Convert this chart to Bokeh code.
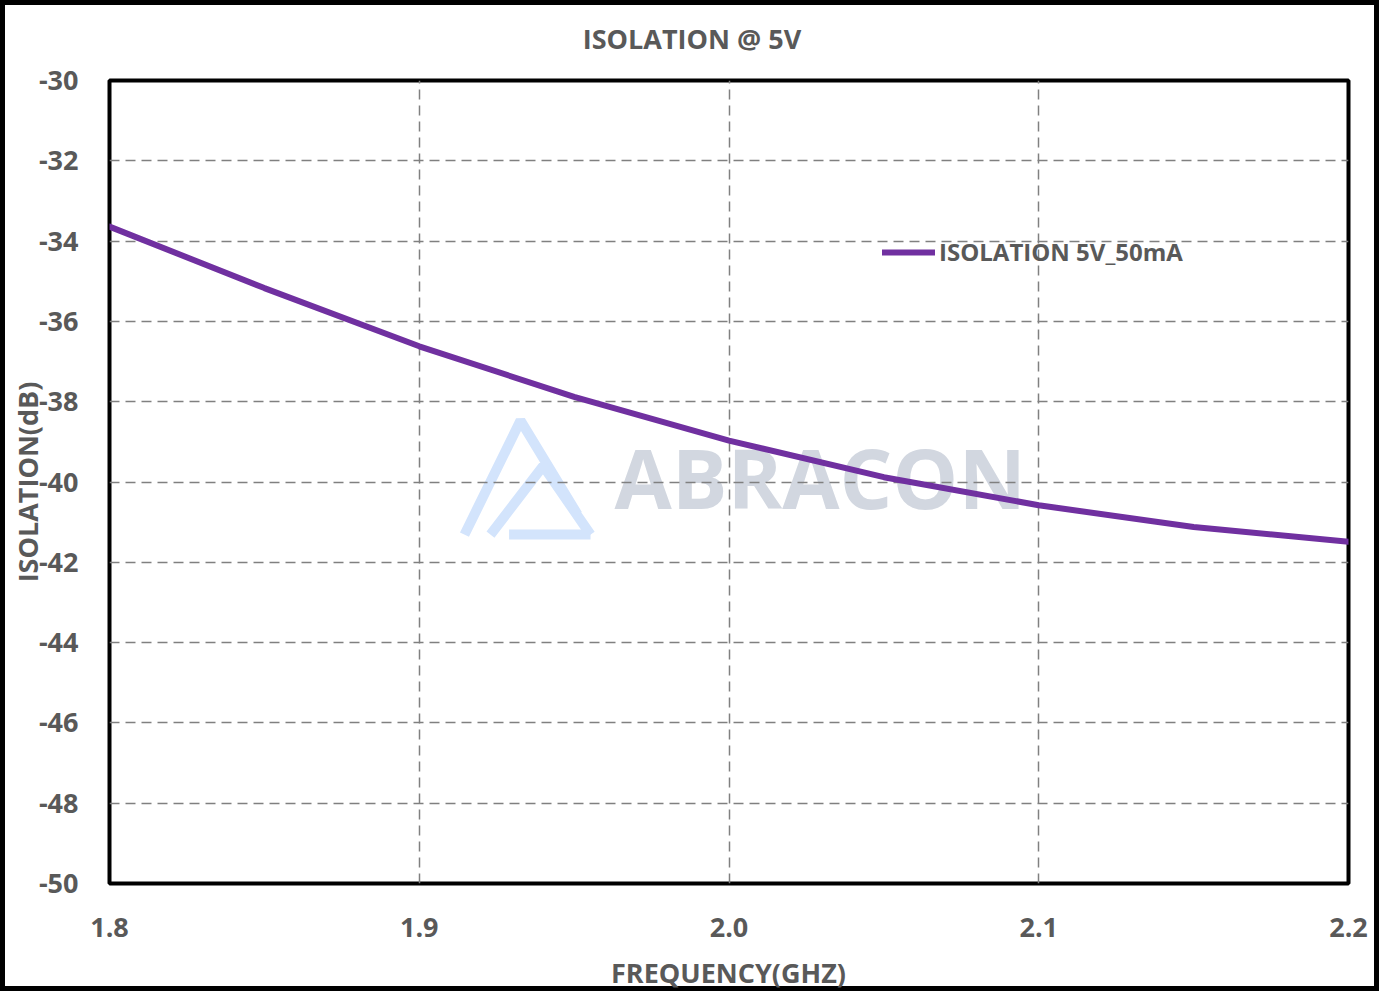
from bokeh.plotting import figure
from bokeh.layouts import column
from bokeh.models import Range1d, FixedTicker, Legend, LegendItem, PrintfTickFormatter, Div
from bokeh.core.properties import value
from bokeh.embed import file_html
from bokeh.resources import INLINE

# ---- data ----
FREQ_GHZ = [1.80, 1.85, 1.90, 1.95, 2.00, 2.05, 2.10, 2.15, 2.20]
ISOLATION_DB = [-33.64, -35.17, -36.62, -37.88, -38.97, -39.88, -40.58, -41.12, -41.49]
X_TICKS = [1.8, 1.9, 2.0, 2.1, 2.2]
Y_TICKS = [-50, -48, -46, -44, -42, -40, -38, -36, -34, -32, -30]
SERIES_NAME = "ISOLATION 5V_50mA"
TITLE = "ISOLATION @ 5V"
X_LABEL = "FREQUENCY(GHZ)"
Y_LABEL = "ISOLATION(dB)"
WATERMARK = "ABRACON"

FONT = "Open Sans"
TXT = "#595959"
PURPLE = "#7030A0"
W, H = 1369, 981      # inner size of the bordered chart box
B = 5                 # outer border width
TITLE_H = 50
XLAB_H = 34
FIG_H = H - TITLE_H - XLAB_H


def label_div(text, height, pad_top, pad_left):
    html = (f'<div style="width:{W}px;box-sizing:border-box;font-family:\'{FONT}\';'
            f'font-size:27px;font-weight:bold;color:{TXT};text-align:center;'
            f'padding-top:{pad_top}px;padding-left:{pad_left}px;line-height:28px;'
            f'white-space:nowrap;">{text}</div>')
    return Div(text=html, width=W, height=height, margin=0,
               styles={"width": f"{W}px"})


title_div = label_div(TITLE, TITLE_H, 20, 5)
xlab_div = label_div(X_LABEL, XLAB_H, 7, 78)

p = figure(width=W, height=FIG_H, output_backend="svg", toolbar_location=None,
           x_range=Range1d(1.8, 2.2), y_range=Range1d(-50, -30))
p.margin = 0
p.min_border_left = 104
p.min_border_right = 26
p.min_border_top = 25
p.min_border_bottom = 69
p.background_fill_color = "white"
p.border_fill_color = "white"
p.outline_line_color = "black"
p.outline_line_width = 4

# axes
for ax in (p.xaxis[0], p.yaxis[0]):
    ax.axis_line_color = None
    ax.major_tick_line_color = None
    ax.minor_tick_line_color = None
    ax.major_tick_in = 0
    ax.major_tick_out = 0
    ax.minor_tick_in = 0
    ax.minor_tick_out = 0
    ax.major_label_text_font = FONT
    ax.major_label_text_font_size = "27px"
    ax.major_label_text_font_style = "bold"
    ax.major_label_text_color = TXT
    ax.axis_label_text_font = FONT
    ax.axis_label_text_font_size = "27px"
    ax.axis_label_text_font_style = "bold"
    ax.axis_label_text_color = TXT

p.xaxis.ticker = FixedTicker(ticks=X_TICKS)
p.yaxis.ticker = FixedTicker(ticks=Y_TICKS)
p.xaxis.formatter = PrintfTickFormatter(format="%.1f")
p.yaxis.formatter = PrintfTickFormatter(format="%d")
p.yaxis.axis_label = Y_LABEL
p.xaxis.major_label_standoff = 34
p.yaxis.major_label_standoff = 31
p.yaxis.axis_label_standoff = -10

# grid
for g in (p.xgrid[0], p.ygrid[0]):
    g.grid_line_color = "#808080"
    g.grid_line_width = 1.5
    g.grid_line_dash = "10 6"
p.xgrid.ticker = FixedTicker(ticks=X_TICKS)
p.ygrid.ticker = FixedTicker(ticks=Y_TICKS)

# watermark (decoration)
p.text(x=[1.963], y=[-39.875], text=[WATERMARK], text_font=value(FONT),
       text_font_size="83px", text_font_style="bold", text_color="#d2d7e0",
       text_baseline="middle", level="image")
p.multi_line(xs=[[1.9146, 1.9327, 1.9511], [1.9230, 1.9400, 1.9553], [1.9290, 1.9553]],
             ys=[[-41.31, -38.47, -40.81], [-41.31, -39.60, -41.31], [-41.31, -41.31]],
             line_color="#d3e4fc", line_width=10, level="image")

# data line
r = p.line(FREQ_GHZ, ISOLATION_DB, line_color=PURPLE, line_width=6, line_cap="round")

legend = Legend(items=[LegendItem(label=SERIES_NAME, renderers=[r])],
                location=(773, 615), orientation="vertical")
legend.border_line_color = None
legend.background_fill_alpha = 0
legend.padding = 0
legend.margin = 0
legend.glyph_width = 53
legend.glyph_height = 28
legend.label_height = 28
legend.label_standoff = 4
legend.label_text_font = FONT
legend.label_text_font_size = "24px"
legend.label_text_font_style = "bold"
legend.label_text_color = TXT
p.add_layout(legend, "center")

root = column(title_div, p, xlab_div, width=W + 2 * B, height=H + 2 * B,
              sizing_mode="fixed", spacing=0,
              styles={"border": f"{B}px solid black", "box-sizing": "border-box",
                      "background-color": "white"})

open("out.html", "w").write(file_html(root, INLINE))
